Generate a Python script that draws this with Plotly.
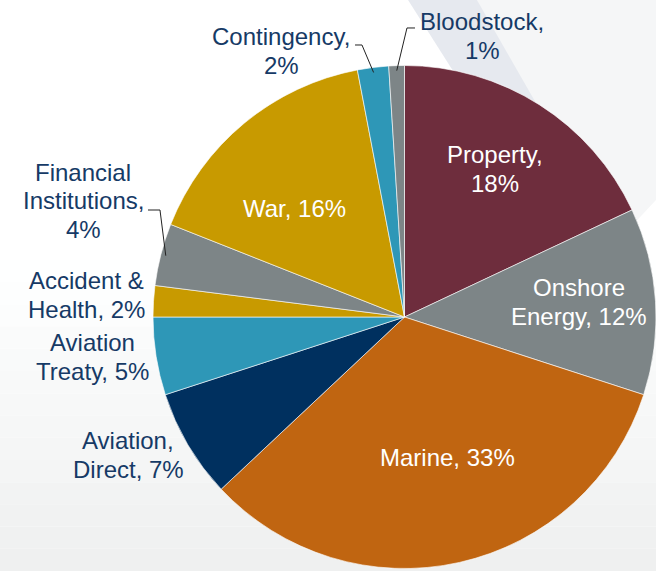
import math
import plotly.graph_objects as go

W, H = 656, 571

segments = ['Property', 'Onshore Energy', 'Marine', 'Aviation, Direct', 'Aviation Treaty',
            'Accident & Health', 'Financial Institutions', 'War', 'Contingency', 'Bloodstock']
shares = [18, 12, 33, 7, 5, 2, 4, 16, 2, 1]
label_lines = [['Property,', '{}%'], ['Onshore', 'Energy, {}%'], ['Marine, {}%'],
               ['Aviation,', 'Direct, {}%'], ['Aviation', 'Treaty, {}%'], ['Accident &', 'Health, {}%'],
               ['Financial', 'Institutions,', '{}%'], ['War, {}%'], ['Contingency,', '{}%'],
               ['Bloodstock,', '{}%']]
colors = ['#6E2D3D', '#7D8587', '#C06511', '#00305F', '#2E97B7',
          '#C89A00', '#7D8587', '#C89A00', '#2E97B7', '#7D8587']
inside = ['Property', 'Onshore Energy', 'Marine', 'War']

# pie placement in pixels (domain below is derived from it)
CX, CY, R = 404.5, 317, 251.5
LINE = 28.5

# label block centres, and where a leader line (if any) leaves the text
label_pos = {
    'Property': dict(at=(495, 169)),
    'Onshore Energy': dict(at=(579, 302)),
    'Marine': dict(at=(447, 457)),
    'War': dict(at=(294, 208)),
    'Aviation, Direct': dict(at=(128, 455)),
    'Aviation Treaty': dict(at=(93, 357)),
    'Accident & Health': dict(at=(86, 295)),
    'Financial Institutions': dict(at=(83, 201), line_from=[(148, 210), (160, 210)]),
    'Contingency': dict(at=(281, 51), line_from=[(355, 45), (362, 45)]),
    'Bloodstock': dict(at=(482, 36), line_from=[(415, 28), (407, 28)]),
}


def px(x, y):
    return x / W, 1 - y / H


def poly(pts, color):
    path = 'M ' + ' L '.join('%.4f,%.4f' % px(x, y) for x, y in pts) + ' Z'
    return dict(type='path', xref='paper', yref='paper', path=path,
                fillcolor=color, line=dict(width=0), layer='below')


def edge_point(i, k=0.98):
    cum = sum(shares[:i]) + shares[i] / 2
    a = math.radians(360 * cum / sum(shares))
    return CX + k * R * math.sin(a), CY - k * R * math.cos(a)


shapes = []
# soft grey fade towards the bottom of the slide
steps = 14
for i in range(steps):
    y0 = 260 + i * (H - 260) / steps
    y1 = 260 + (i + 1) * (H - 260) / steps
    g = round(255 - (i + 1) * 16 / steps)
    shapes.append(dict(type='rect', xref='paper', yref='paper',
                       x0=0, x1=1, y0=1 - y1 / H, y1=1 - y0 / H,
                       fillcolor='rgb(%d,%d,%d)' % (g, g + 1, g + 1),
                       line=dict(width=0), layer='below'))
# decorative diagonal bands behind the pie
shapes.append(poly([(477, 0), (656, 0), (656, 200), (600, 260), (560, 200)], '#F5F6F7'))
shapes.append(poly([(408, 0), (477, 0), (560, 145), (500, 145)], '#E6E9EF'))

annotations = []
for i, s in enumerate(segments):
    opt = label_pos[s]
    lines = [t.format(shares[i]) for t in label_lines[i]]
    colour = 'white' if s in inside else '#163A66'
    bx, by = opt['at']
    for j, line in enumerate(lines):
        x, y = px(bx, by + (j - (len(lines) - 1) / 2) * LINE)
        annotations.append(dict(x=x, y=y, xref='paper', yref='paper', text=line,
                                showarrow=False, xanchor='center', yanchor='middle',
                                font=dict(color=colour, size=24)))
    if 'line_from' in opt:
        pts = opt['line_from'] + [edge_point(i)]
        path = 'M ' + ' L '.join('%.4f,%.4f' % px(x, y) for x, y in pts)
        shapes.append(dict(type='path', xref='paper', yref='paper', path=path,
                           line=dict(color='#222222', width=1), layer='above'))

fig = go.Figure(go.Pie(labels=segments,
                       values=shares,
                       textinfo='none',
                       marker=dict(colors=colors, line=dict(color='rgba(255,255,255,0.6)', width=1)),
                       sort=False,
                       direction='clockwise',
                       rotation=0,
                       hoverinfo='none',
                       domain=dict(x=[(CX - R) / W, 1.0],
                                   y=[1 - (CY + R) / H, 1 - (CY - R) / H])))

fig.update_layout(width=W,
                  height=H,
                  margin=dict(l=0, r=0, t=0, b=0),
                  paper_bgcolor='white',
                  font=dict(family='Liberation Sans, Arial, sans-serif', size=24),
                  shapes=shapes,
                  annotations=annotations,
                  hovermode=False,
                  showlegend=False)

# the page body has a default 8px margin which would shift the whole slide
fig.write_html('out.html',
               config={'displayModeBar': False},
               post_script="document.body.style.margin='0';document.body.style.overflow='hidden';")
